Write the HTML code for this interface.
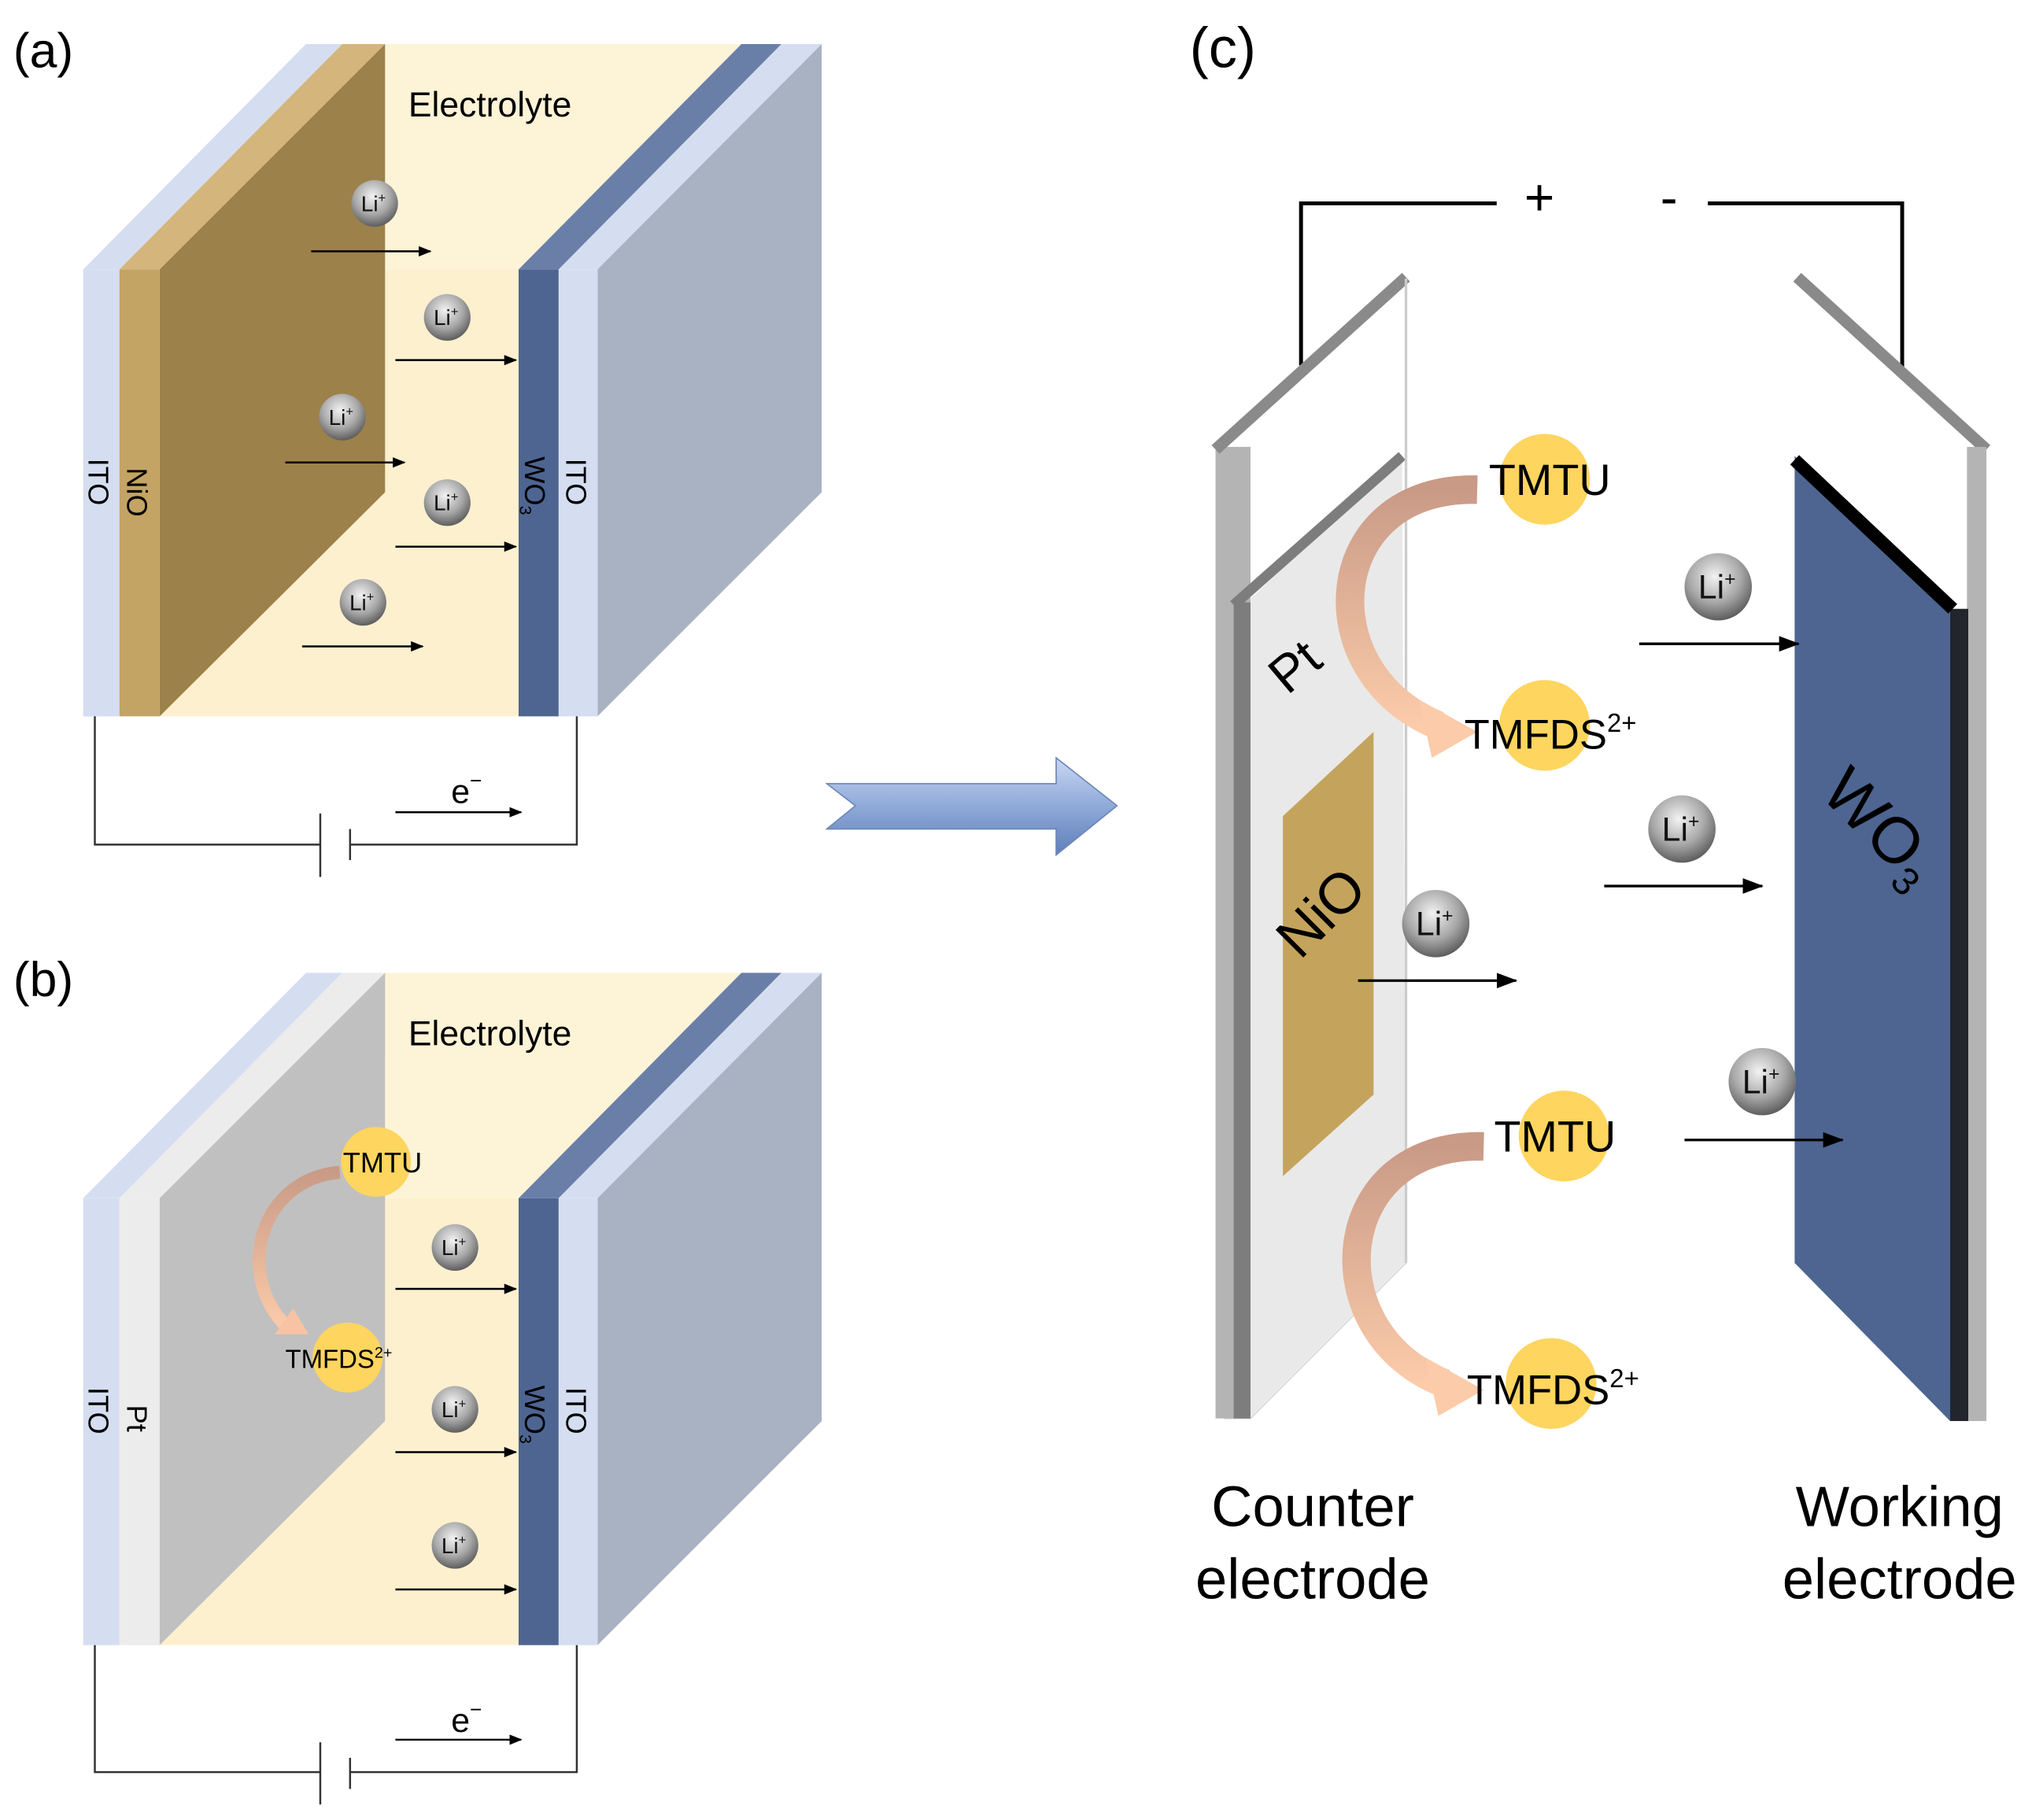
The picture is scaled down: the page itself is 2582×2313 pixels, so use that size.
<!DOCTYPE html>
<html><head><meta charset="utf-8"><style>html,body{margin:0;padding:0;background:#fff}svg{display:block}</style></head><body>
<svg width="2582" height="2313" viewBox="0 0 1568 1405" xmlns="http://www.w3.org/2000/svg" font-family="Liberation Sans, Arial, sans-serif">
<defs>
<radialGradient id="li" cx="0.45" cy="0.35" r="0.7"><stop offset="0" stop-color="#f2f2f2"/><stop offset="0.55" stop-color="#a8a8a8"/><stop offset="1" stop-color="#505050"/></radialGradient>
<linearGradient id="bigarrow" x1="0" y1="0" x2="0" y2="1"><stop offset="0" stop-color="#c9d8f2"/><stop offset="0.5" stop-color="#8fa9d8"/><stop offset="1" stop-color="#5f7fba"/></linearGradient>
<linearGradient id="peach" x1="0" y1="0" x2="0" y2="1"><stop offset="0" stop-color="#c99a86"/><stop offset="1" stop-color="#fbcbaa"/></linearGradient>
<marker id="ah" markerWidth="10" markerHeight="8" refX="9" refY="4" orient="auto" markerUnits="userSpaceOnUse"><path d="M0,0 L10,4 L0,8 z" fill="#000"/></marker>
<marker id="ah2" markerWidth="16" markerHeight="12" refX="15" refY="6" orient="auto" markerUnits="userSpaceOnUse"><path d="M0,0 L16,6 L0,12 z" fill="#000"/></marker>
<g id="li1"><circle r="18" fill="url(#li)"/><text x="-1" y="6" font-size="17" text-anchor="middle" fill="#111">Li<tspan font-size="10" dy="-7">+</tspan></text></g>
<g id="li2"><circle r="26" fill="url(#li)"/><text x="-1" y="9" font-size="26" text-anchor="middle" fill="#111">Li<tspan font-size="15" dy="-10">+</tspan></text></g>
</defs>

<!-- Panel a -->
<text x="10" y="52" font-size="38">(a)</text>
<g id="box">
<polygon points="64,208 92,208 264,34 236,34" fill="#d5def0"/>
<polygon points="400,208 431,208 603,34 572,34" fill="#6a7fa8"/>
<polygon points="431,208 461,208 634,34 603,34" fill="#d5def0"/>
<polygon points="461,208 634,34 634,380 461,553" fill="#a8b2c3"/>
<rect x="64" y="208" width="28" height="345" fill="#d5def0"/>
<rect x="400" y="208" width="31" height="345" fill="#4e6591"/>
<rect x="431" y="208" width="30" height="345" fill="#d5def0"/>
</g>
<polygon points="123,208 400,208 572,34 297,34" fill="#fdf3d6"/>
<polygon points="92,208 123,208 297,34 264,34" fill="#d4b67c"/>
<rect x="92" y="208" width="31" height="345" fill="#c4a464"/>
<rect x="123" y="208" width="277" height="345" fill="#fdf0cf"/>
<polygon points="123,208 297,34 297,380 123,553" fill="#9c814a"/>
<text x="315" y="90" font-size="27">Electrolyte</text>
<text transform="translate(68,372) rotate(90)" font-size="22" text-anchor="middle">ITO</text>
<text transform="translate(98,380) rotate(90)" font-size="22" text-anchor="middle">NiO</text>
<text transform="translate(405,375) rotate(90)" font-size="22" text-anchor="middle">WO<tspan font-size="13" dy="4">3</tspan></text>
<text transform="translate(437,372) rotate(90)" font-size="22" text-anchor="middle">ITO</text>
<g stroke="#000" stroke-width="1.5" marker-end="url(#ah)">
<line x1="240" y1="194" x2="332" y2="194"/><line x1="305" y1="278" x2="398" y2="278"/><line x1="220" y1="357" x2="312" y2="357"/><line x1="305" y1="422" x2="398" y2="422"/><line x1="233" y1="499" x2="326" y2="499"/>
</g>
<use href="#li1" x="289" y="157"/><use href="#li1" x="345" y="245"/><use href="#li1" x="264" y="322"/><use href="#li1" x="345" y="388"/><use href="#li1" x="280" y="465"/>
<g stroke="#333" stroke-width="1.5" fill="none">
<polyline points="73,553 73,652 247,652"/><polyline points="270,652 445,652 445,553"/>
<line x1="247" y1="628" x2="247" y2="677"/><line x1="270" y1="640" x2="270" y2="664"/>
</g>
<text x="348" y="620" font-size="26">e<tspan font-size="16" dy="-12">−</tspan></text>
<line x1="305" y1="627" x2="402" y2="627" stroke="#000" stroke-width="1.5" marker-end="url(#ah)"/>

<!-- Panel b -->
<text x="10" y="769" font-size="38">(b)</text>
<g transform="translate(0,717)"><use href="#box"/>
<polygon points="123,208 400,208 572,34 297,34" fill="#fdf3d6"/>
<polygon points="92,208 123,208 297,34 264,34" fill="#ececec"/>
<rect x="92" y="208" width="31" height="345" fill="#ececec"/>
<rect x="123" y="208" width="277" height="345" fill="#fdf0cf"/>
<polygon points="123,208 297,34 297,380 123,553" fill="#c0c0c0"/>
</g>
<text x="315" y="807" font-size="27">Electrolyte</text>
<text transform="translate(68,1089) rotate(90)" font-size="22" text-anchor="middle">ITO</text>
<text transform="translate(98,1095) rotate(90)" font-size="22" text-anchor="middle">Pt</text>
<text transform="translate(405,1092) rotate(90)" font-size="22" text-anchor="middle">WO<tspan font-size="13" dy="4">3</tspan></text>
<text transform="translate(437,1089) rotate(90)" font-size="22" text-anchor="middle">ITO</text>
<path d="M262,905 C200,910 180,985 222,1025" stroke="url(#peach)" stroke-width="10" fill="none"/>
<polygon points="212,1030 238,1030 226,1010" fill="#f8c3a3"/>
<circle cx="290" cy="897" r="27" fill="#fdd55f"/><text x="295" y="905" font-size="22" text-anchor="middle">TMTU</text>
<circle cx="268" cy="1048" r="27" fill="#fdd55f"/><text x="220" y="1056" font-size="20">TMFDS<tspan font-size="12" dy="-8">2+</tspan></text>
<g stroke="#000" stroke-width="1.5" marker-end="url(#ah)">
<line x1="305" y1="995" x2="398" y2="995"/><line x1="305" y1="1121" x2="398" y2="1121"/><line x1="305" y1="1227" x2="398" y2="1227"/>
</g>
<use href="#li1" x="351" y="963"/><use href="#li1" x="351" y="1088"/><use href="#li1" x="351" y="1193"/>
<g stroke="#333" stroke-width="1.5" fill="none">
<polyline points="73,1270 73,1368 247,1368"/><polyline points="270,1368 445,1368 445,1270"/>
<line x1="247" y1="1345" x2="247" y2="1393"/><line x1="270" y1="1357" x2="270" y2="1381"/>
</g>
<text x="348" y="1337" font-size="26">e<tspan font-size="16" dy="-12">−</tspan></text>
<line x1="305" y1="1343" x2="402" y2="1343" stroke="#000" stroke-width="1.5" marker-end="url(#ah)"/>

<!-- Big arrow -->
<polygon points="638,605 815,605 815,585 862,622 815,660 815,640 638,640 660,622" fill="url(#bigarrow)" stroke="#6b86b8" stroke-width="1"/>

<!-- Panel c -->
<text x="918" y="52" font-size="44">(c)</text>
<g stroke="#000" stroke-width="3" fill="none">
<polyline points="1004,282 1004,157 1155,157"/><polyline points="1318,157 1468,157 1468,285"/>
</g>
<text x="1188" y="166" font-size="40" text-anchor="middle">+</text>
<text x="1288" y="166" font-size="40" text-anchor="middle">-</text>

<polygon points="945,345 1085,215 1085,975 965,1095 945,1095" fill="#fff" stroke="#ccc" stroke-width="1"/>
<polygon points="962,465 1082,352 1085,975 965,1095" fill="#e9e9e9"/>
<rect x="938" y="345" width="27" height="750" fill="#b4b4b4"/>
<rect x="952" y="465" width="13" height="630" fill="#7d7d7d"/>
<line x1="938" y1="347" x2="1085" y2="214" stroke="#8a8a8a" stroke-width="9"/>
<line x1="952" y1="467" x2="1082" y2="352" stroke="#7d7d7d" stroke-width="8"/>
<line x1="1085" y1="215" x2="1085" y2="975" stroke="#ccc" stroke-width="2"/>
<polygon points="990,630 1060,565 1060,845 990,908" fill="#c4a45c"/>
<text transform="translate(1030,715) rotate(-45)" font-size="44" text-anchor="middle">NiO</text>
<text transform="translate(1008,525) rotate(-40)" font-size="40" text-anchor="middle">Pt</text>

<polygon points="1387,212 1533,345 1533,1097 1387,975" fill="#fff"/>
<line x1="1387" y1="214" x2="1533" y2="347" stroke="#8a8a8a" stroke-width="9"/>
<rect x="1518" y="345" width="15" height="752" fill="#b4b4b4"/>
<polygon points="1385,352 1505,470 1505,1097 1385,975" fill="#4e6591"/>
<rect x="1505" y="470" width="14" height="627" fill="#22252b"/>
<line x1="1385" y1="355" x2="1507" y2="470" stroke="#000" stroke-width="10"/>
<text transform="translate(1440,650) rotate(45)" font-size="50" text-anchor="middle">WO<tspan font-size="30" dy="10">3</tspan></text>

<path d="M1140,378 C1020,375 1010,520 1110,560" stroke="url(#peach)" stroke-width="22" fill="none"/>
<polygon points="1095,540 1140,565 1105,585" fill="#fbcbaa"/>
<path d="M1145,885 C1025,882 1015,1030 1115,1068" stroke="url(#peach)" stroke-width="22" fill="none"/>
<polygon points="1100,1048 1145,1073 1110,1093" fill="#fbcbaa"/>

<circle cx="1192" cy="370" r="35" fill="#fdd55f"/><text x="1196" y="382" font-size="34" text-anchor="middle" textLength="94" lengthAdjust="spacingAndGlyphs">TMTU</text>
<circle cx="1192" cy="560" r="35" fill="#fdd55f"/><text x="1130" y="578" font-size="32">TMFDS<tspan font-size="20" dy="-13">2+</tspan></text>
<circle cx="1207" cy="877" r="35" fill="#fdd55f"/><text x="1200" y="889" font-size="34" text-anchor="middle" textLength="94" lengthAdjust="spacingAndGlyphs">TMTU</text>
<circle cx="1197" cy="1068" r="35" fill="#fdd55f"/><text x="1132" y="1084" font-size="32">TMFDS<tspan font-size="20" dy="-13">2+</tspan></text>

<g stroke="#000" stroke-width="2" marker-end="url(#ah2)">
<line x1="1265" y1="497" x2="1388" y2="497"/><line x1="1238" y1="684" x2="1360" y2="684"/><line x1="1048" y1="757" x2="1170" y2="757"/><line x1="1300" y1="880" x2="1422" y2="880"/>
</g>
<use href="#li2" x="1326" y="453"/><use href="#li2" x="1298" y="640"/><use href="#li2" x="1108" y="713"/><use href="#li2" x="1360" y="835"/>

<text x="1013" y="1178" font-size="44" text-anchor="middle">Counter</text>
<text x="1013" y="1234" font-size="44" text-anchor="middle">electrode</text>
<text x="1466" y="1178" font-size="44" text-anchor="middle">Working</text>
<text x="1466" y="1234" font-size="44" text-anchor="middle">electrode</text>
</svg>
</body></html>
